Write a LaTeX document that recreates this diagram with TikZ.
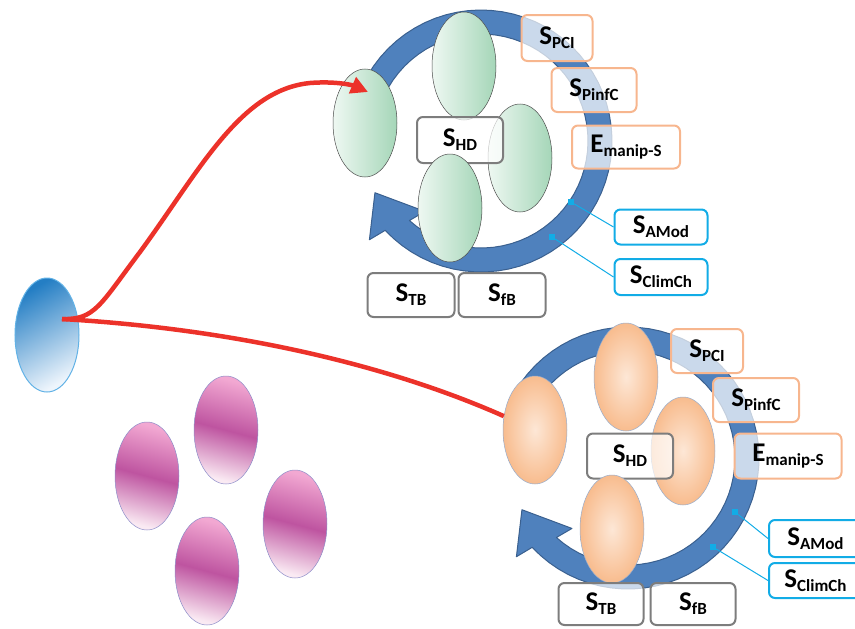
\documentclass[tikz,border=0pt]{standalone}
\usepackage{fontspec}
\setmainfont{Carlito}
\usepackage{tikz}
\usetikzlibrary{shapes.geometric, arrows.meta, positioning, calc}
\definecolor{ringBlue}{RGB}{79, 129, 189}
\definecolor{ringEdge}{RGB}{58, 96, 143}
\definecolor{linkRed}{RGB}{236, 50, 42}
\definecolor{tagOrange}{RGB}{247, 182, 142}
\definecolor{tagGray}{RGB}{125, 125, 125}
\definecolor{tagCyan}{RGB}{18, 172, 230}
\definecolor{greenLight}{RGB}{238, 248, 242}
\definecolor{greenDark}{RGB}{165, 214, 184}
\definecolor{peachLight}{RGB}{253, 231, 214}
\definecolor{peachDark}{RGB}{248, 188, 142}
\definecolor{peachEdge}{RGB}{150, 172, 205}
\definecolor{pinkLight}{RGB}{242, 168, 210}
\definecolor{pinkDark}{RGB}{190, 84, 160}
\definecolor{pinkPale}{RGB}{250, 234, 243}
\definecolor{pinkEdge}{RGB}{140, 140, 200}
\definecolor{blueDark}{RGB}{36, 126, 196}
\definecolor{bluePale}{RGB}{238, 245, 252}
\definecolor{blueEdge}{RGB}{98, 178, 230}

\newcommand{\lbl}[2]{#1\raisebox{-4pt}{\fontsize{17}{17}\selectfont #2}}

\begin{document}
\begin{tikzpicture}[
    x=1pt, y=-1pt,
    cell/.style={
        ellipse,
        minimum width=64pt,
        minimum height=108pt,
        inner sep=0pt,
        line width=0.5pt
    },
    greencell/.style={cell, draw=black!70, left color=greenLight, right color=greenDark},
    peachcell/.style={cell, draw=peachEdge, inner color=peachLight, outer color=peachDark},
    pinkcell/.style={cell, draw=pinkEdge, top color=pinkLight, bottom color=pinkPale,
        middle color=pinkDark, shading angle=-15},
    tag/.style={
        rectangle,
        rounded corners=6pt,
        line width=2pt,
        fill=white,
        fill opacity=0.7,
        text opacity=1,
        inner sep=0pt,
        font=\bfseries\fontsize{27}{30}\selectfont
    },
    orangetag/.style={tag, draw=tagOrange},
    graytag/.style={tag, draw=tagGray},
    cyantag/.style={tag, draw=tagCyan, minimum width=93pt},
    cyclering/.style={fill=ringBlue, draw=ringEdge, line width=1pt, line join=round},
    dot/.style={rectangle, fill=tagCyan, minimum size=6pt, inner sep=0pt},
    cyanlink/.style={draw=tagCyan, line width=1pt},
    redlink/.style={draw=linkRed, line width=4.5pt}
]
    \useasboundingbox (0,0) rectangle (855,629);

    % Cycle arrows
    \foreach \cx/\cy in {481/141, 628/458} {
        \filldraw[cyclering]
            plot[domain=-155:137, samples=60] ({\cx+131*cos(\x)}, {\cy+131*sin(\x)})
            -- ({\cx+149*cos(138.5)}, {\cy+149*sin(138.5)})
            -- ({\cx+118*cos(154)}, {\cy+118*sin(154)})
            -- ({\cx+90*cos(128.5)}, {\cy+90*sin(128.5)})
            -- plot[domain=132:-155, samples=60] ({\cx+107*cos(\x)}, {\cy+107*sin(\x)})
            -- cycle;
    }

    % Green group
    \node[greencell] (gL) at (365,123) {};
    \node[greencell] (gT) at (464,66) {};
    \node[greencell] (gR) at (520,158) {};
    \node[graytag, minimum width=86pt, minimum height=46pt] (gHD) at (460,140) {\lbl{S}{HD}};
    \node[greencell] (gB) at (450,208) {};

    % Peach group
    \node[peachcell] (oL) at (535,430) {};
    \node[peachcell] (oT) at (626,377) {};
    \node[peachcell] (oR) at (683,451) {};
    \node[graytag, minimum width=86pt, minimum height=45pt] (oHD) at (630,456) {\lbl{S}{HD}};
    \node[peachcell] (oB) at (612,529) {};

    % Pink group
    \node[pinkcell] (p1) at (147,476) {};
    \node[pinkcell] (p2) at (226,430) {};
    \node[pinkcell] (p3) at (295,524) {};
    \node[pinkcell] (p4) at (207,571) {};

    % Source
    \node[cell, minimum height=114pt, draw=blueEdge, line width=1pt,
          top color=blueDark, bottom color=bluePale, shading angle=30] (src) at (47,335) {};
    \coordinate (start) at (62,319);
    \coordinate (gtip) at (368,92);

    % Tags, green group
    \node[orangetag, minimum width=71pt, minimum height=46pt] (gPCI) at (557,38) {\lbl{S}{PCI}};
    \node[orangetag, minimum width=85pt, minimum height=44pt] (gPinfC) at (594,90) {\lbl{S}{PinfC}};
    \node[orangetag, minimum width=108pt, minimum height=43pt] (gManip) at (626,147) {\lbl{E}{manip-S}};
    \node[cyantag, minimum height=35pt] (gAMod) at (661,227) {\lbl{S}{AMod}};
    \node[cyantag, minimum height=36pt] (gClim) at (661,277) {\lbl{S}{ClimCh}};
    \node[graytag, minimum width=87pt, minimum height=44pt] (gTB) at (411,295) {\lbl{S}{TB}};
    \node[graytag, minimum width=87pt, minimum height=44pt] (gfB) at (502,295) {\lbl{S}{fB}};

    % Tags, peach group
    \node[orangetag, minimum width=72pt, minimum height=44pt] (oPCI) at (707,351) {\lbl{S}{PCI}};
    \node[orangetag, minimum width=86pt, minimum height=44pt] (oPinfC) at (756,400) {\lbl{S}{PinfC}};
    \node[orangetag, minimum width=107pt, minimum height=45pt] (oManip) at (788,456) {\lbl{E}{manip-S}};
    \node[cyantag, minimum height=37pt] (oAMod) at (815.5,538.5) {\lbl{S}{AMod}};
    \node[cyantag, minimum height=35pt] (oClim) at (815.5,580.5) {\lbl{S}{ClimCh}};
    \node[graytag, minimum width=85pt, minimum height=42pt] (oTB) at (601,604) {\lbl{S}{TB}};
    \node[graytag, minimum width=85pt, minimum height=42pt] (ofB) at (693,604) {\lbl{S}{fB}};

    % Pointers
    \node[dot] (gd1) at (571,202) {};
    \node[dot] (gd2) at (552,237) {};
    \node[dot] (od1) at (735,512) {};
    \node[dot] (od2) at (713,547) {};
    \draw[cyanlink] (gd1) -- (gAMod.west);
    \draw[cyanlink] (gd2) -- (gClim.west);
    \draw[cyanlink] (od1) -- (oAMod.west);
    \draw[cyanlink] (od2) -- (oClim.west);

    % Links
    \draw[redlink] (start) .. controls (250,330) and (400,370) .. (oL);
    \draw[redlink, -{Triangle[length=17pt, width=17pt]}]
        (start) .. controls (95,320) and (100,305) .. (140,252)
        .. controls (200,170) and (240,90) .. (310,83)
        .. controls (335,81) and (352,85) .. (gtip);

\end{tikzpicture}
\end{document}
